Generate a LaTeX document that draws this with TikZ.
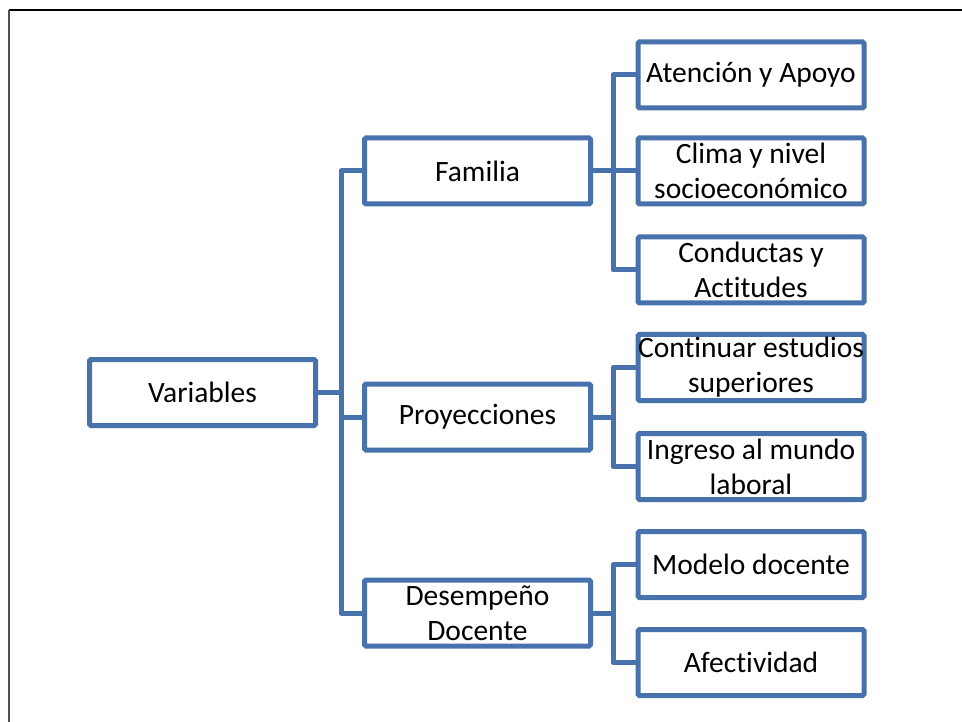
\documentclass[tikz,border=0pt]{standalone}
\usepackage{fontspec}
\setmainfont{Carlito}[Ligatures=NoCommon]
\usepackage{tikz}

\definecolor{boxblue}{RGB}{71,114,171}
\definecolor{framegray}{RGB}{80,80,80}

\begin{document}
\begin{tikzpicture}[x=1pt, y=-1pt,
  catbox/.style={draw=boxblue, line width=5pt, rounded corners=1.5pt, fill=white, inner sep=0pt, minimum width=226pt, minimum height=66pt, align=center, font=\fontsize{29.5}{35}\selectfont},
  link/.style={draw=boxblue, line width=5pt, line join=round}]
\useasboundingbox (0,0) rectangle (962,722);

\draw[black, line width=1.3pt] (9,10) -- (962,10);
\draw[framegray, line width=2.6pt] (9,10) -- (9,722);

\node[catbox] (variables) at (202.5,392.5) {Variables};

\node[catbox] (familia) at (477.5,171) {Familia};
\node[catbox] (proyecciones) at (477.5,417) {Proyecciones};
\node[catbox] (desempeno) at (477.5,613) {Desempeño\\Docente};

\node[catbox] (atencion) at (751,75) {Atención y Apoyo};
\node[catbox] (clima) at (751,171) {Clima y nivel\\socioeconómico};
\node[catbox] (conductas) at (751,270) {Conductas y\\Actitudes};
\node[catbox] (continuar) at (751,367.5) {Continuar estudios\\superiores};
\node[catbox] (ingreso) at (751,466.5) {Ingreso al mundo\\laboral};
\node[catbox] (modelo) at (751,564.5) {Modelo docente};
\node[catbox] (afectividad) at (751,662.5) {Afectividad};

\coordinate (trunk) at (341,0);
\coordinate (famtrunk) at (613,0);

\draw[link] (variables.east) -- (variables.east -| trunk);
\draw[link] (familia.west) -| (desempeno.west -| trunk) -- (desempeno.west);
\draw[link] (proyecciones.west -| trunk) -- (proyecciones.west);

\draw[link] (familia.east) -- (familia.east -| famtrunk);
\draw[link] (atencion.west) -| (conductas.west -| famtrunk) -- (conductas.west);
\draw[link] (clima.west -| famtrunk) -- (clima.west);

\draw[link] (proyecciones.east) -- (proyecciones.east -| famtrunk);
\draw[link] (continuar.west) -| (ingreso.west -| famtrunk) -- (ingreso.west);

\draw[link] (desempeno.east) -- (desempeno.east -| famtrunk);
\draw[link] (modelo.west) -| (afectividad.west -| famtrunk) -- (afectividad.west);

\end{tikzpicture}
\end{document}
